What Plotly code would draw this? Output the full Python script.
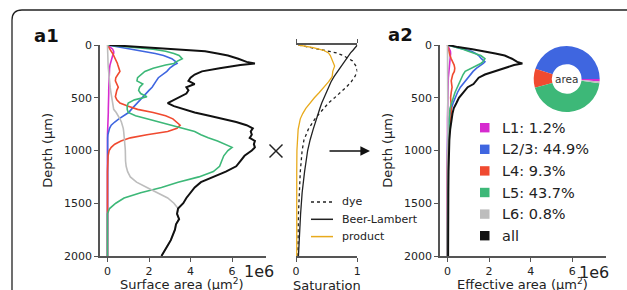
import plotly.graph_objects as go

# ---------------- data ----------------
LAYERS = ["L1", "L2/3", "L4", "L5", "L6"]
LAYER_COLORS = ["#D62BCF", "#3F66E0", "#F04A30", "#3DB878", "#BDBDBD"]
AREA_PCT = [1.2, 44.9, 9.3, 43.7, 0.8]

# panel a1: surface area (x1e6 um^2) vs depth (um)
DEPTH1 = [0, 20, 40, 60, 80, 100, 130, 160, 175, 190,
          220, 250, 280, 310, 340, 370, 400, 430, 460, 490,
          520, 550, 580, 610, 640, 670, 700, 730, 760, 790,
          820, 850, 880, 910, 940, 970, 1000,
          1050, 1100, 1150, 1200, 1250, 1300, 1350, 1400, 1450, 1500,
          1550, 1600, 1650, 1700, 1750, 1800, 1850, 1900, 1950, 2000]
L1_AREA = [0, 0.15, 0.25, 0.3, 0.3, 0.25, 0.2, 0.15, 0.13, 0.12,
           0.1, 0.09, 0.08, 0.08, 0.07, 0.07, 0.06, 0.06, 0.06, 0.05,
           0.05, 0.05, 0.04, 0.04, 0.04, 0.03, 0.03, 0.03, 0.02, 0.02,
           0.01, 0, 0, 0, 0, 0, 0,
           0, 0, 0, 0, 0, 0, 0, 0, 0, 0,
           0, 0, 0, 0, 0, 0, 0, 0, 0, 0]
L23_AREA = [0, 0.6, 1.2, 1.8, 2.3, 2.7, 3.1, 3.3, 3.35, 3.2,
            3.0, 2.86, 2.65, 2.45, 2.35, 2.25, 2.15, 2.0, 1.85, 1.7,
            1.55, 1.4, 1.27, 1.15, 1.02, 0.75, 0.55, 0.35, 0.18, 0.1,
            0.05, 0.02, 0.01, 0.01, 0.01, 0.01, 0,
            0, 0, 0, 0, 0, 0, 0, 0, 0, 0,
            0, 0, 0, 0, 0, 0, 0, 0, 0, 0]
L4_AREA = [0, 0.05, 0.1, 0.18, 0.25, 0.3, 0.4, 0.45, 0.48, 0.5,
           0.55, 0.6, 0.5, 0.4, 0.38, 0.45, 0.52, 0.45, 0.4, 0.38,
           0.45, 0.6, 1.0, 1.45, 2.2, 2.8, 3.15, 3.3, 3.5, 3.35,
           2.9, 1.9, 1.1, 0.65, 0.35, 0.18, 0.08,
           0.03, 0.01, 0, 0, 0, 0, 0, 0, 0, 0,
           0, 0, 0, 0, 0, 0, 0, 0, 0, 0]
L5_AREA = [0, 1.2, 2.2, 2.8, 3.2, 3.45, 3.6, 3.3, 3.2, 2.8,
           2.2, 1.8, 1.6, 1.45, 1.42, 1.7, 1.55, 1.5, 1.6, 1.9,
           1.3, 1.0, 0.95, 0.95, 1.0, 1.35, 1.9, 2.5, 3.1, 3.7,
           4.2, 4.5, 4.85, 5.3, 5.7, 6.0, 5.8,
           5.6, 5.5, 5.4, 5.1, 4.4, 3.4, 2.6, 1.6, 0.8, 0.4,
           0.1, 0, 0, 0, 0, 0, 0, 0, 0, 0]
L6_AREA = [0, 0, 0.01, 0.01, 0.01, 0.02, 0.02, 0.03, 0.03, 0.03,
           0.04, 0.05, 0.07, 0.08, 0.1, 0.11, 0.13, 0.15, 0.17, 0.19,
           0.22, 0.25, 0.28, 0.3, 0.42, 0.52, 0.6, 0.67, 0.72, 0.76,
           0.78, 0.8, 0.82, 0.83, 0.85, 0.85, 0.86,
           0.86, 0.87, 0.9, 0.97, 1.1, 1.4, 1.9, 2.4, 2.9, 3.2,
           3.4, 3.35, 3.45, 3.3, 3.25, 3.15, 3.05, 2.9, 2.75, 2.6]
ALL_AREA = [0.1, 1.7, 3.4, 4.7, 5.3, 5.8, 6.3, 6.7, 7.1, 6.4,
            5.4, 4.55, 4.2, 4.0, 3.9, 4.2, 3.8, 3.9, 3.8, 3.5,
            3.2, 2.9, 3.2, 3.7, 4.2, 4.9, 5.6, 6.2, 6.7, 7.0,
            6.9, 6.95, 6.85, 7.1, 7.05, 7.1, 6.95,
            6.6, 6.4, 6.2, 5.7, 5.1, 4.5, 4.2, 4.0, 3.8, 3.65,
            3.4, 3.35, 3.45, 3.3, 3.25, 3.15, 3.05, 2.9, 2.75, 2.6]

# saturation panel
DEPTH2 = [0, 25, 50, 75, 100, 150, 200, 250, 300, 350, 400, 450, 500,
          550, 600, 650, 700, 800, 900, 1000, 1200, 1400, 1600, 1800, 2000]
DYE = [0.04, 0.25, 0.48, 0.66, 0.77, 0.92, 0.98, 1.0, 0.96, 0.9, 0.82, 0.73, 0.63,
       0.53, 0.45, 0.38, 0.31, 0.2, 0.13, 0.1, 0.07, 0.05, 0.04, 0.035, 0.03]
BEER_LAMBERT = [1.0, 0.97, 0.93, 0.89, 0.86, 0.79, 0.73, 0.67, 0.62, 0.57, 0.53, 0.49, 0.46,
                0.42, 0.39, 0.36, 0.33, 0.28, 0.23, 0.19, 0.14, 0.1, 0.075, 0.055, 0.04]
PRODUCT = [0.04, 0.28, 0.45, 0.53, 0.56, 0.6, 0.63, 0.6, 0.59, 0.53, 0.46, 0.38, 0.3,
           0.23, 0.16, 0.11, 0.07, 0.035, 0.02, 0.015, 0.012, 0.012, 0.012, 0.012, 0.012]
SAT_NAMES = ["dye", "Beer-Lambert", "product"]
SAT_COLORS = ["#222222", "#222222", "#E8AA1C"]
SAT_DASH = ["dot", "solid", "solid"]

# panel a2: effective area (x1e6 um^2)
DEPTH3 = [0, 20, 40, 60, 80, 100, 130, 160, 175, 190, 220, 250, 280, 310, 340, 370,
          400, 450, 500, 550, 600, 650, 700, 800, 900, 1000, 1200, 1400, 1600, 1800, 2000]
L1_EFF = [0, 0.05, 0.1, 0.14, 0.15, 0.14, 0.12, 0.09, 0.08, 0.07, 0.06, 0.05, 0.045, 0.04, 0.035, 0.03,
          0.03, 0.02, 0.02, 0.01, 0.01, 0, 0, 0, 0, 0, 0, 0, 0, 0, 0]
L23_EFF = [0, 0.4, 0.8, 1.15, 1.35, 1.5, 1.63, 1.8, 1.72, 1.6, 1.4, 1.23, 1.1, 0.99, 0.85, 0.72,
           0.62, 0.48, 0.36, 0.27, 0.19, 0.12, 0.07, 0.02, 0, 0, 0, 0, 0, 0, 0]
L4_EFF = [0, 0.02, 0.04, 0.06, 0.08, 0.12, 0.18, 0.25, 0.3, 0.32, 0.35, 0.33, 0.25, 0.2, 0.18, 0.2,
          0.22, 0.18, 0.15, 0.17, 0.18, 0.18, 0.15, 0.1, 0.03, 0.01, 0, 0, 0, 0, 0]
L5_EFF = [0, 0.4, 0.75, 1.0, 1.3, 1.6, 1.8, 1.7, 1.6, 1.45, 1.1, 0.85, 0.75, 0.68, 0.6, 0.52,
          0.45, 0.36, 0.28, 0.2, 0.12, 0.1, 0.09, 0.06, 0.05, 0.04, 0.03, 0.01, 0, 0, 0]
L6_EFF = [0, 0, 0, 0, 0, 0, 0, 0, 0, 0, 0.01, 0.01, 0.01, 0.01, 0.01, 0.02,
          0.02, 0.02, 0.03, 0.03, 0.03, 0.03, 0.03, 0.03, 0.02, 0.02, 0.03, 0.04, 0.035, 0.03, 0.03]
ALL_EFF = [0.05, 0.5, 1.2, 1.8, 2.3, 2.75, 3.1, 3.35, 3.6, 3.2, 2.7, 2.2, 1.8, 1.5, 1.35, 1.25,
           0.97, 0.75, 0.55, 0.43, 0.3, 0.24, 0.2, 0.13, 0.09, 0.07, 0.05, 0.04, 0.035, 0.03, 0.03]

DEPTH_TICKS = [0, 500, 1000, 1500, 2000]
AREA_TICKS = [0, 2, 4, 6]
SAT_TICKS = [0, 1]

# ---------------- figure ----------------
W, H = 627, 290
FONT = "DejaVu Sans"
AX = "#555555"
TXT = "#222222"


def px(x):
    return x / W


def py(y):
    return 1 - y / H


fig = go.Figure()

a1_series = [L1_AREA, L23_AREA, L4_AREA, L5_AREA, L6_AREA]
a2_series = [L1_EFF, L23_EFF, L4_EFF, L5_EFF, L6_EFF]

for name, color, vals in zip(LAYERS, LAYER_COLORS, a1_series):
    fig.add_trace(go.Scatter(x=vals, y=DEPTH1, mode="lines", name=name,
                             line=dict(color=color, width=1.6),
                             xaxis="x", yaxis="y", showlegend=False))
fig.add_trace(go.Scatter(x=ALL_AREA, y=DEPTH1, mode="lines", name="all",
                         line=dict(color="#111111", width=2.0),
                         xaxis="x", yaxis="y", showlegend=False))

for name, color, dash, vals in zip(SAT_NAMES, SAT_COLORS, SAT_DASH, [DYE, BEER_LAMBERT, PRODUCT]):
    fig.add_trace(go.Scatter(x=vals, y=DEPTH2, mode="lines", name=name,
                             line=dict(color=color, width=1.3, dash=dash),
                             xaxis="x2", yaxis="y2", showlegend=False))

for name, color, vals in zip(LAYERS, LAYER_COLORS, a2_series):
    fig.add_trace(go.Scatter(x=vals, y=DEPTH3, mode="lines", name=name,
                             line=dict(color=color, width=1.6),
                             xaxis="x3", yaxis="y3", showlegend=False))
fig.add_trace(go.Scatter(x=ALL_EFF, y=DEPTH3, mode="lines", name="all",
                         line=dict(color="#111111", width=2.0),
                         xaxis="x3", yaxis="y3", showlegend=False))

# donut
fig.add_trace(go.Pie(values=AREA_PCT, labels=LAYERS, sort=False,
                     direction="counterclockwise", rotation=90, hole=0.45,
                     marker=dict(colors=LAYER_COLORS, line=dict(width=0)),
                     textinfo="none", hoverinfo="label+percent", showlegend=False,
                     domain=dict(x=[px(533.7), px(599.7)], y=[py(112), py(46)])))

axis_common = dict(showgrid=False, zeroline=False, showline=True, linecolor=AX, linewidth=1.5,
                   ticks="outside", ticklen=4, tickwidth=1.3, tickcolor=AX, automargin=False,
                   tickfont=dict(family=FONT, size=11, color=TXT))
ydom = [py(256), py(45)]

fig.update_layout(
    width=W, height=H, autosize=False,
    margin=dict(l=0, r=0, t=0, b=0, pad=0, autoexpand=False),
    paper_bgcolor="white", plot_bgcolor="rgba(0,0,0,0)", showlegend=False,
    font=dict(family=FONT, color=TXT),
    xaxis=dict(domain=[px(100), px(265.7)], range=[-0.36, 7.62], tickvals=AREA_TICKS,
               anchor="y", **axis_common),
    yaxis=dict(domain=ydom, range=[2000, 0], tickvals=DEPTH_TICKS, anchor="x", **axis_common),
    xaxis2=dict(domain=[px(296), px(357.3)], range=[0, 1], tickvals=SAT_TICKS, mirror="ticks",
                anchor="y2", **axis_common),
    yaxis2=dict(domain=ydom, range=[2000, 0], visible=False, anchor="x2"),
    xaxis3=dict(domain=[px(440), px(606)], range=[-0.36, 7.62], tickvals=AREA_TICKS,
                anchor="y3", **axis_common),
    yaxis3=dict(domain=ydom, range=[2000, 0], tickvals=DEPTH_TICKS, anchor="x3", **axis_common),
)

ann = []
shapes = []


def text(x, y, s, size, **kw):
    d = dict(x=px(x), y=py(y), xref="paper", yref="paper", text=s, showarrow=False,
             font=dict(family=FONT, size=size, color=kw.pop("color", TXT)),
             xanchor=kw.pop("xanchor", "center"), yanchor=kw.pop("yanchor", "middle"))
    d.update(kw)
    ann.append(d)


text(47, 35.5, "<b>a1</b>", 18, color="#111")
text(400.5, 34, "<b>a2</b>", 18, color="#111")
text(46.7, 150, "Depth (μm)", 13, textangle=-90)
text(386.7, 150, "Depth (μm)", 13, textangle=-90)
text(182, 284, "Surface area (μm<sup>2</sup>)", 13)
text(326.7, 285, "Saturation", 13)
text(522, 284, "Effective area (μm<sup>2</sup>)", 13)
text(259, 271.5, "1e6", 16)
text(593.5, 272, "1e6", 16)
text(566.7, 79.3, "area", 10.5, color="#333")

# arrow
ann.append(dict(x=px(370), y=py(151), ax=-42, ay=0, xref="paper", yref="paper",
                axref="pixel", ayref="pixel", text="", showarrow=True, arrowhead=2,
                arrowsize=1.2, arrowwidth=1.6, arrowcolor="#111"))

# multiplication sign
for (xa, ya, xb, yb) in [(269.5, 144.5, 282.5, 157.5), (269.5, 157.5, 282.5, 144.5)]:
    shapes.append(dict(type="line", xref="paper", yref="paper", x0=px(xa), y0=py(ya),
                       x1=px(xb), y1=py(yb), line=dict(color="#222", width=1.5)))

# a2 legend (layers + all)
leg_names = [f"{n}: {p}%" for n, p in zip(LAYERS, AREA_PCT)] + ["all"]
leg_colors = LAYER_COLORS + ["#111111"]
for i, (s, c) in enumerate(zip(leg_names, leg_colors)):
    yy = 127.7 + i * 21.6
    shapes.append(dict(type="rect", xref="paper", yref="paper", x0=px(480), x1=px(489.5),
                       y0=py(yy + 4.7), y1=py(yy - 4.7), fillcolor=c, line=dict(width=0)))
    text(499.5, yy, s, 14.5, xanchor="left")

# saturation legend
for i, (s, c, d) in enumerate(zip(SAT_NAMES, SAT_COLORS, SAT_DASH)):
    yy = 202 + i * 17.3
    shapes.append(dict(type="line", xref="paper", yref="paper", x0=px(311), x1=px(333),
                       y0=py(yy), y1=py(yy), line=dict(color=c, width=1.5, dash=d)))
    text(340, yy, s, 11, xanchor="left")

# rounded frame
shapes.append(dict(type="path", xref="paper", yref="paper",
                   path=f"M {px(12)},0 L {px(12)},{py(20)} Q {px(12)},{py(10)} {px(22)},{py(10)} L 1,{py(10)}",
                   line=dict(color="#222", width=1.3)))

fig.update_layout(annotations=ann, shapes=shapes)
fig.write_html("out.html", config={"displayModeBar": False},
               post_script="document.body.style.margin='0';document.body.style.overflow='hidden';")
